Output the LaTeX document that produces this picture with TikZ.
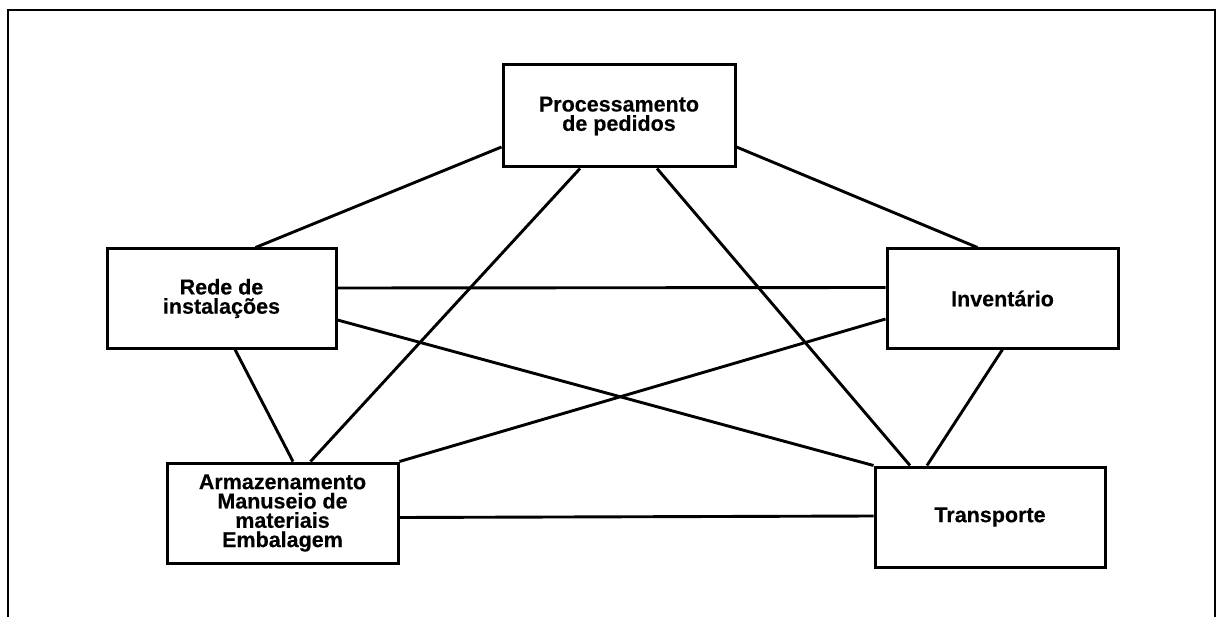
\documentclass[tikz,border=0pt]{standalone}
\usepackage{fontspec}
\setmainfont{Liberation Sans}
\newfontfamily\heavy[FakeBold=0.3]{Liberation Sans Bold}
\begin{document}
\begin{tikzpicture}[x=1pt,y=-1pt,
  area/.style={draw, line width=3pt, fill=white, align=center,
    font=\heavy\fontsize{21.5}{19.3}\selectfont, inner sep=0pt},
  link/.style={line width=2.9pt},
  frame/.style={line width=2pt}]
\useasboundingbox (0,0) rectangle (1217,617);
% open outer frame
\draw[frame] (8,617) -- (8,10) -- (1215,10) -- (1215,617);

% logistics areas
\node[area, minimum width=232pt, minimum height=102pt] (P) at (619,116) {Processamento\\de pedidos};
\node[area, minimum width=229pt, minimum height=99pt] (R) at (221.5,298.5) {Rede de\\instalações};
\node[area, minimum width=231pt, minimum height=99pt] (I) at (1002.5,298.5) {Inventário};
\node[area, minimum width=231pt, minimum height=100pt] (A) at (282.5,513) {Armazenamento\\Manuseio de\\materiais\\Embalagem};
\node[area, minimum width=230pt, minimum height=100pt] (T) at (990,517) {Transporte};

% every area is linked to every other one
\draw[link] ([yshift=-31pt]P.west) -- ([xshift=34pt]R.north);
\draw[link] ([yshift=-31pt]P.east) -- ([xshift=-25pt]I.north);
\draw[link] ([xshift=-39pt]P.south) -- ([xshift=28pt]A.north);
\draw[link] ([xshift=38pt]P.south) -- ([xshift=-80pt]T.north);
\draw[link] ([yshift=10.5pt]R.east) -- ([yshift=11pt]I.west);
\draw[link] ([yshift=-21.5pt]R.east) -- (T.north west);
\draw[link] ([xshift=13.5pt]R.south) -- ([xshift=10.5pt]A.north);
\draw[link] (A.north east) -- ([yshift=-20.5pt]I.west);
\draw[link] ([yshift=-4.5pt]A.east) -- ([yshift=1pt]T.west);
\draw[link] (I.south) -- ([xshift=-63pt]T.north);
\end{tikzpicture}
\end{document}
